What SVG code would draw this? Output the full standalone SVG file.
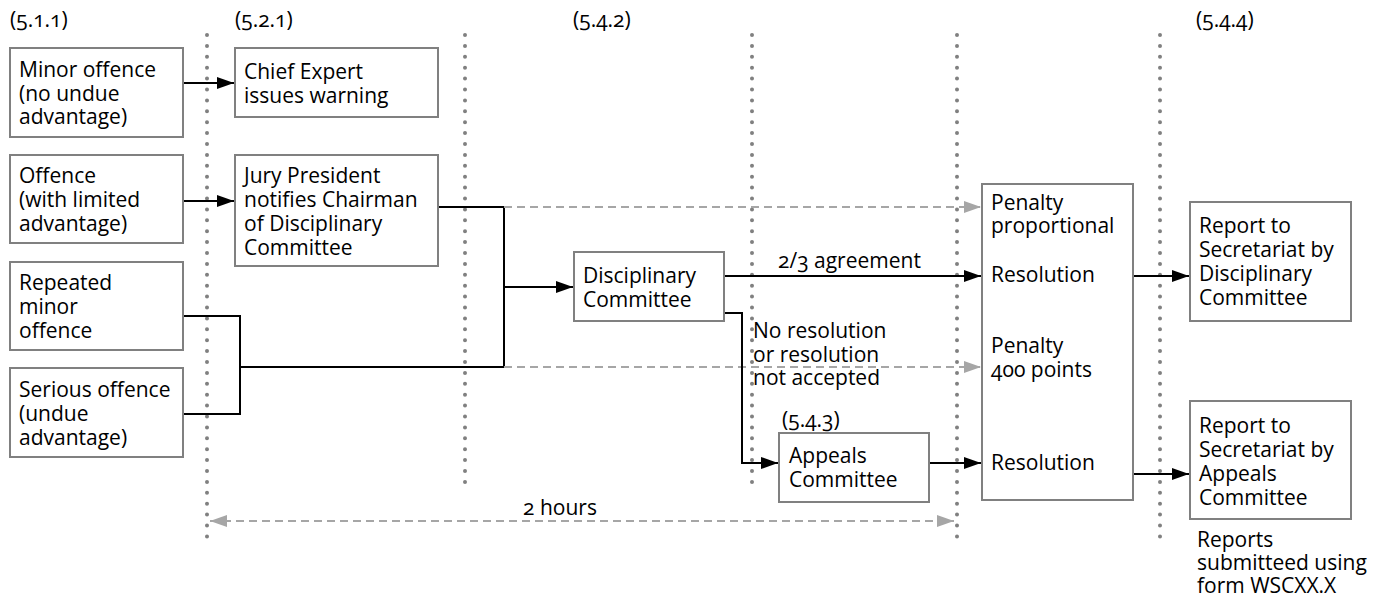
<svg xmlns="http://www.w3.org/2000/svg" width="1386" height="599" viewBox="0 0 1386 599">
<defs>
<style>
text{font-family:"Open Sans","Noto Sans","Liberation Sans",sans-serif;font-size:21px;fill:#000;font-variant-numeric:oldstyle-nums;}
.box{fill:#fff;stroke:#808080;stroke-width:2;}
.dots{stroke:#808080;stroke-width:4;stroke-linecap:round;stroke-dasharray:0 10.9;fill:none;}
.conn{stroke:#000;stroke-width:2;fill:none;}
.dash{stroke:#a6a6a6;stroke-width:2;stroke-dasharray:8 5;fill:none;}
</style>
<marker id="ab" markerUnits="userSpaceOnUse" markerWidth="18" markerHeight="12" refX="17" refY="6" orient="auto"><path d="M0,0 L17,6 L0,12 z" fill="#000"/></marker>
<marker id="ag" markerUnits="userSpaceOnUse" markerWidth="18" markerHeight="12" refX="17" refY="6" orient="auto-start-reverse"><path d="M0,0 L17,6 L0,12 z" fill="#a6a6a6"/></marker>
</defs>
<rect width="1386" height="599" fill="#fff"/>

<g id="headers">
<text x="10" y="27">(5.1.1)</text>
<text x="235" y="27">(5.2.1)</text>
<text x="573" y="27">(5.4.2)</text>
<text x="1196" y="27">(5.4.4)</text>
</g>

<g id="separators">
<line class="dots" x1="207" y1="35" x2="207" y2="545"/>
<line class="dots" x1="465" y1="35" x2="465" y2="485"/>
<line class="dots" x1="752" y1="35" x2="752" y2="485"/>
<line class="dots" x1="957" y1="35" x2="957" y2="545"/>
<line class="dots" x1="1160" y1="35" x2="1160" y2="545"/>
</g>

<g id="connectors">
<path class="conn" d="M183,83 H234" marker-end="url(#ab)"/>
<path class="conn" d="M183,201 H234" marker-end="url(#ab)"/>
<path class="conn" d="M438,207 H504 V367 H240"/>
<path class="conn" d="M183,316 H240 V414 H183"/>
<path class="conn" d="M504,287 H573" marker-end="url(#ab)"/>
<path class="dash" d="M504,207 H981" marker-end="url(#ag)"/>
<path class="dash" d="M504,367 H981" marker-end="url(#ag)"/>
<path class="conn" d="M724,276 H981" marker-end="url(#ab)"/>
<path class="conn" d="M724,313 H742 V463 H778" marker-end="url(#ab)"/>
<path class="conn" d="M929,463 H981" marker-end="url(#ab)"/>
<path class="conn" d="M1133,276 H1189" marker-end="url(#ab)"/>
<path class="conn" d="M1133,474 H1189" marker-end="url(#ab)"/>
<path class="dash" d="M210,521 H954" marker-start="url(#ag)" marker-end="url(#ag)"/>
<text x="778" y="268">2/3 agreement</text>
<text x="753" y="338">No resolution</text>
<text x="753" y="362">or resolution</text>
<text x="753" y="385">not accepted</text>
<text x="560" y="515" text-anchor="middle">2 hours</text>
</g>

<g id="minor-offence">
<rect class="box" x="10" y="48" width="173" height="89"/>
<text x="19" y="77">Minor offence</text>
<text x="19" y="101">(no undue</text>
<text x="19" y="124">advantage)</text>
</g>
<g id="offence-limited">
<rect class="box" x="10" y="155" width="173" height="88"/>
<text x="19" y="183">Offence</text>
<text x="19" y="207">(with limited</text>
<text x="19" y="231">advantage)</text>
</g>
<g id="repeated-minor">
<rect class="box" x="10" y="262" width="173" height="88"/>
<text x="19" y="290">Repeated</text>
<text x="19" y="314">minor</text>
<text x="19" y="338">offence</text>
</g>
<g id="serious-offence">
<rect class="box" x="10" y="368" width="173" height="89"/>
<text x="19" y="397">Serious offence</text>
<text x="19" y="421">(undue</text>
<text x="19" y="445">advantage)</text>
</g>
<g id="chief-expert">
<rect class="box" x="235" y="48" width="203" height="69"/>
<text x="244" y="79">Chief Expert</text>
<text x="244" y="103">issues warning</text>
</g>
<g id="jury-president">
<rect class="box" x="235" y="155" width="203" height="111"/>
<text x="244" y="183">Jury President</text>
<text x="244" y="207">notifies Chairman</text>
<text x="244" y="231">of Disciplinary</text>
<text x="244" y="255">Committee</text>
</g>
<g id="disciplinary-committee">
<rect class="box" x="574" y="252" width="150" height="69"/>
<text x="583" y="283">Disciplinary</text>
<text x="583" y="307">Committee</text>
</g>
<g id="appeals-committee">
<text x="782" y="427">(5.4.3)</text>
<rect class="box" x="779" y="433" width="150" height="69"/>
<text x="789" y="463">Appeals</text>
<text x="789" y="487">Committee</text>
</g>
<g id="outcomes">
<rect class="box" x="982" y="184" width="151" height="316"/>
<text x="991" y="210">Penalty</text>
<text x="991" y="233">proportional</text>
<text x="991" y="282">Resolution</text>
<text x="991" y="353">Penalty</text>
<text x="991" y="377">400 points</text>
<text x="991" y="470">Resolution</text>
</g>
<g id="report-disciplinary">
<rect class="box" x="1190" y="202" width="161" height="119"/>
<text x="1199" y="233">Report to</text>
<text x="1199" y="257">Secretariat by</text>
<text x="1199" y="281">Disciplinary</text>
<text x="1199" y="305">Committee</text>
</g>
<g id="report-appeals">
<rect class="box" x="1190" y="401" width="161" height="118"/>
<text x="1199" y="433">Report to</text>
<text x="1199" y="457">Secretariat by</text>
<text x="1199" y="481">Appeals</text>
<text x="1199" y="505">Committee</text>
</g>
<g id="note">
<text x="1197" y="547">Reports</text>
<text x="1197" y="570">submitteed using</text>
<text x="1197" y="593">form WSCXX.X</text>
</g>
</svg>
